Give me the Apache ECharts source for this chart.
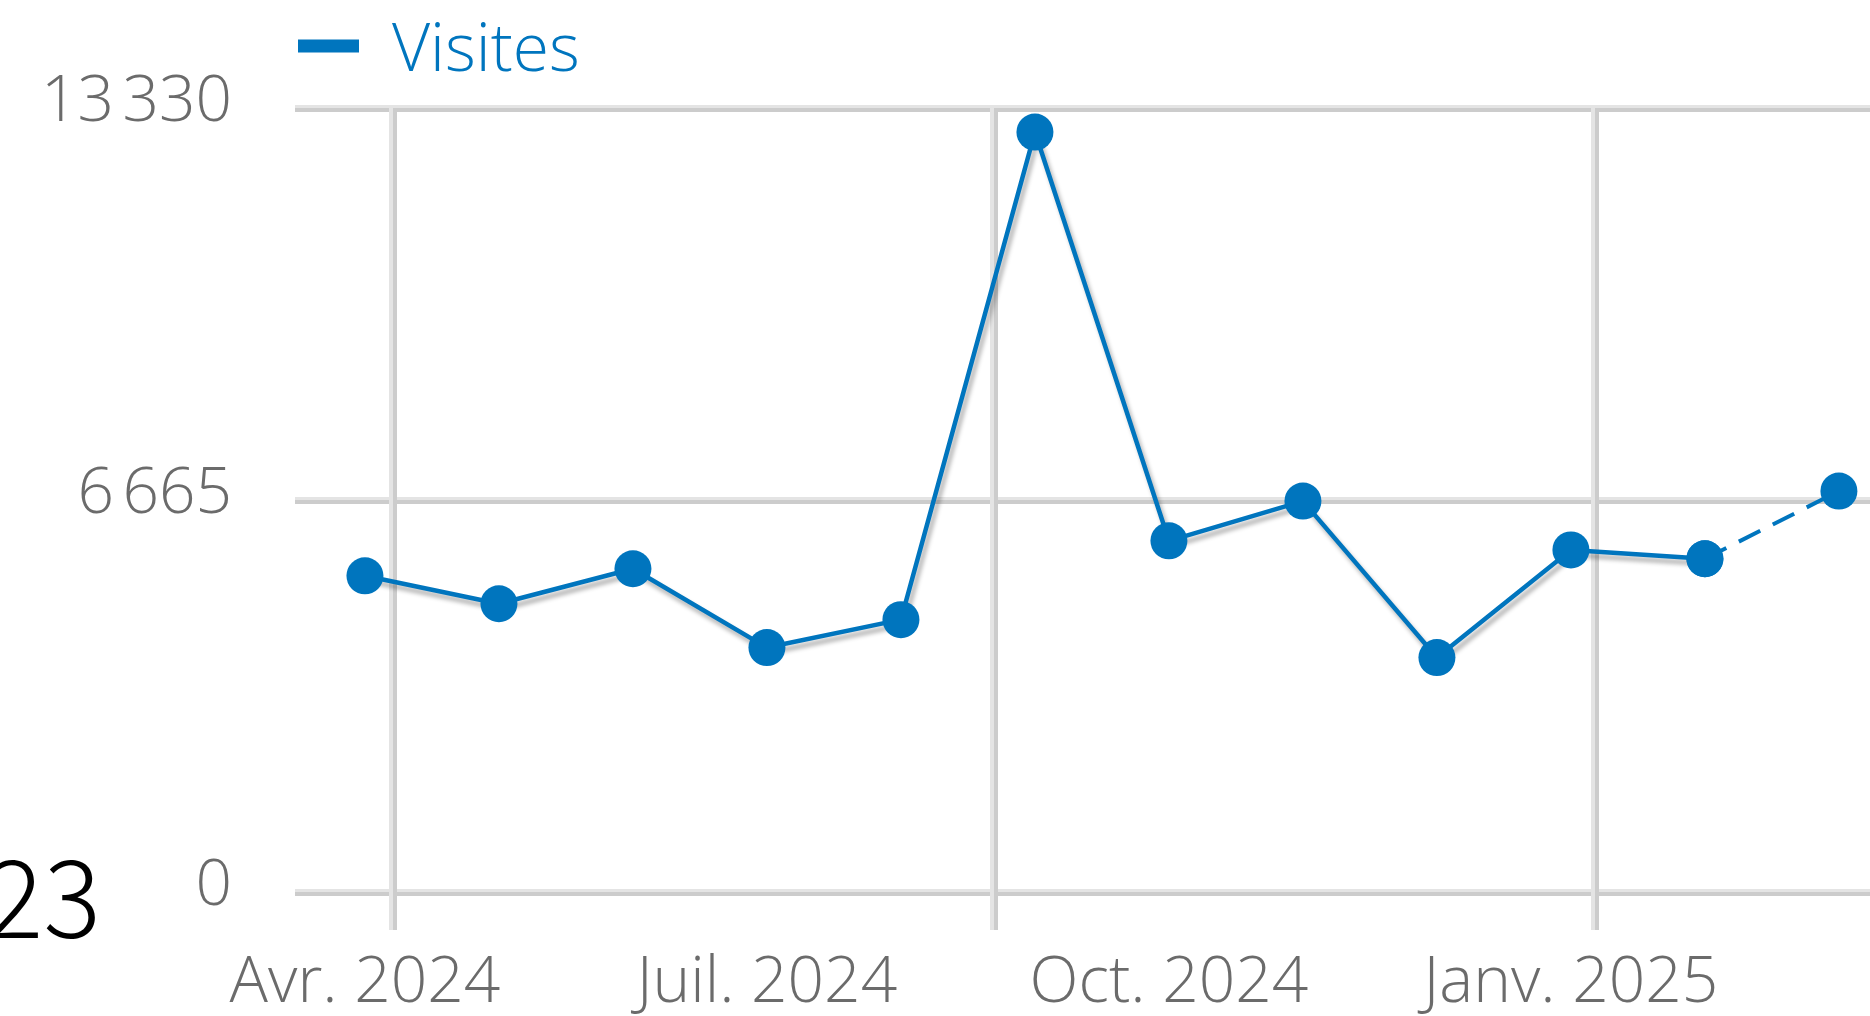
<!DOCTYPE html>
<html>
<head>
<meta charset="utf-8">
<script src="https://cdn.jsdelivr.net/npm/echarts@6/dist/echarts.min.js"></script>
<style>
html,body{margin:0;padding:0;background:#fff;}
#chart{width:1870px;height:1016px;}
</style>
</head>
<body>
<div id="chart"></div>
<script>
// ---- data ----
const months = ['Avr. 2024','Mai 2024','Juin 2024','Juil. 2024','Août 2024','Sept. 2024','Oct. 2024','Nov. 2024','Déc. 2024','Janv. 2025','Févr. 2025','Mars 2025'];
const visits = [5410, 4935, 5530, 4190, 4665, 12955, 6005, 6680, 4020, 5850, 5700, 6850];
const yTicks = [0, 6665, 13330];
const labelAt = [0, 3, 6, 9];          // months that carry a label
const vGridAt = [0.22, 4.705, 9.19];   // vertical gridline positions, in month-index units
const seriesName = 'Visites';
const sideText = '23';

// solid part: all but last (last period incomplete -> dashed)
const solid = visits.map((v, i) => [i, i < visits.length - 1 ? v : null]);
const dashed = visits.map((v, i) => [i, i >= visits.length - 2 ? v : null]);

const BLUE = '#0075be';
const FONT = 'Open Sans';
const fmt = v => String(v).replace(/\B(?=(\d{3})+(?!\d))/g, '\u202f');
const X_MIN = -0.522, X_MAX = 11.232;

const chart = echarts.init(document.getElementById('chart'), null, {renderer: 'canvas'});
chart.setOption({
  animation: false,
  backgroundColor: '#ffffff',
  grid: {left: 295, right: 0, top: 110, bottom: 120, containLabel: false},
  legend: {
    data: [seriesName],
    left: 293, top: 14,
    icon: 'path://M0,0L61,0L61,13L0,13ZM0,24.95L0.02,24.95L0.02,25L0,25Z',
    symbolKeepAspect: false,
    itemWidth: 61, itemHeight: 25,
    textStyle: {color: BLUE, fontFamily: FONT, fontSize: 66, fontWeight: 300, padding: [0, 0, 0, 28]}
  },
  xAxis: [
    {
      type: 'value', min: X_MIN, max: X_MAX,
      axisLine: {show: false}, axisTick: {show: false}, splitLine: {show: false},
      axisLabel: {customValues: labelAt, formatter: v => months[Math.round(v)] || '',
        margin: 58, color: '#6b6b6b', fontFamily: FONT, fontSize: 64, fontWeight: 300}
    },
    {
      type: 'value', min: X_MIN, max: X_MAX, position: 'bottom', offset: 36,
      axisLine: {show: false}, axisLabel: {show: false}, splitLine: {show: false},
      axisTick: {show: true, inside: true, length: 822, customValues: vGridAt,
        lineStyle: {color: '#cccccc', width: 4, shadowColor: '#e4e4e4', shadowOffsetX: -4, shadowBlur: 0}}
    }
  ],
  yAxis: {
    type: 'value', min: 0, max: 13330, interval: 6665,
    axisLine: {show: false}, axisTick: {show: false},
    axisLabel: {margin: 63, color: '#6b6b6b', fontFamily: FONT, fontSize: 64, fontWeight: 300,
      verticalAlign: 'bottom', lineHeight: 14, formatter: v => fmt(v)},
    splitLine: {lineStyle: {color: '#cccccc', width: 4, shadowColor: '#e4e4e4', shadowOffsetY: -3, shadowBlur: 0}}
  },
  series: [
    {
      name: seriesName, type: 'line', data: solid, xAxisIndex: 0,
      symbol: 'circle', symbolSize: 37, showSymbol: true,
      itemStyle: {color: BLUE},
      lineStyle: {color: BLUE, width: 4.5, shadowColor: 'rgba(0,0,0,0.3)', shadowBlur: 4, shadowOffsetX: 3, shadowOffsetY: 5},
      z: 3
    },
    {
      name: seriesName, type: 'line', data: dashed, xAxisIndex: 0,
      symbol: 'circle', symbolSize: 37, showSymbol: true,
      itemStyle: {color: BLUE},
      lineStyle: {color: BLUE, width: 4, type: [24, 14]},
      z: 2
    }
  ],
  graphic: [{
    type: 'text', right: 1870 - 101, top: 843,
    style: {text: sideText, fill: '#000', font: '300 108px "Noto Sans CJK JP", "Noto Sans", sans-serif'}
  }]
});
</script>
</body>
</html>
